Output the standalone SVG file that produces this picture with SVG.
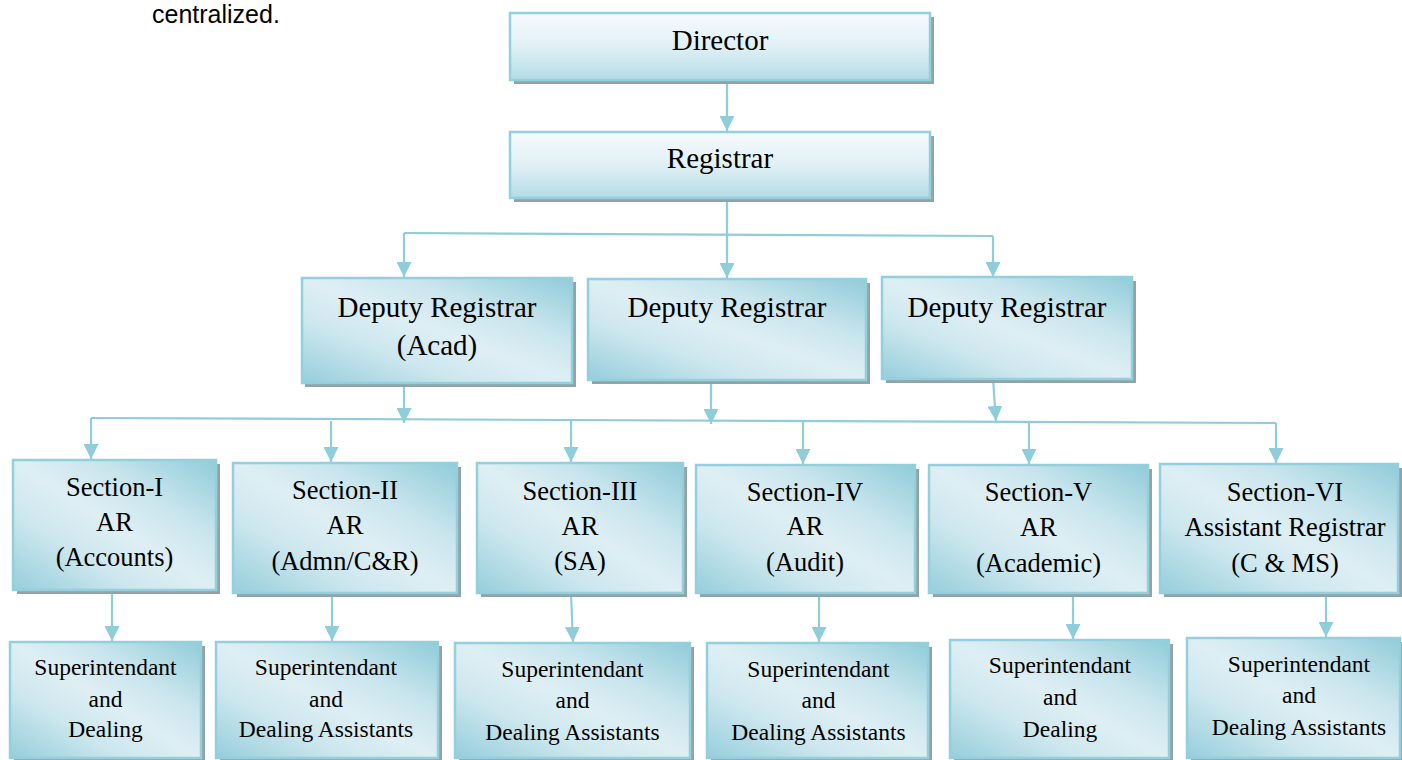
<svg xmlns="http://www.w3.org/2000/svg" width="1402" height="760" viewBox="0 0 1402 760">
<defs>
  <linearGradient id="gTop" x1="0" y1="0" x2="0" y2="1">
    <stop offset="0" stop-color="#f7fbfd"/>
    <stop offset="0.5" stop-color="#e0f0f5"/>
    <stop offset="1" stop-color="#b3dce6"/>
  </linearGradient>
  <linearGradient id="gDiag" x1="0" y1="1" x2="1" y2="0">
    <stop offset="0" stop-color="#95cedb"/>
    <stop offset="0.3" stop-color="#cde7ee"/>
    <stop offset="0.5" stop-color="#deeff4"/>
    <stop offset="0.7" stop-color="#c9e5ed"/>
    <stop offset="1" stop-color="#90ccd9"/>
  </linearGradient>
  <marker id="arr" viewBox="0 0 10 10" refX="10" refY="5" markerWidth="15" markerHeight="15" markerUnits="userSpaceOnUse" orient="auto">
    <path d="M0,0 L10,5 L0,10 z" fill="#8ecdd9"/>
  </marker>
</defs>
<style>
  .box { stroke:#93cfdc; stroke-width:2.5; }
  .top { fill:url(#gTop); }
  .dg { fill:url(#gDiag); }
  .sh { fill:#8fa3a9; }
  .t { font-family:"Liberation Serif","Times New Roman",serif; fill:#000; text-anchor:middle; }
  .t1 { font-size:29px; }
  .t2 { font-size:26.5px; }
  .t3 { font-size:23.5px; }
  .ln { stroke:#8ecdd9; stroke-width:2.2; fill:none; }
  .ar { stroke:#8ecdd9; stroke-width:2.2; fill:none; marker-end:url(#arr); }
</style>
<rect width="1402" height="760" fill="#ffffff"/>

<text x="152" y="23" font-family="Liberation Sans, Arial, sans-serif" font-size="25" fill="#000">centralized.</text>

<g id="connectors">
  <path class="ar" d="M727,80 L727,131"/>
  <path class="ar" d="M727,198 L727,278"/>
  <path class="ln" d="M404,233 L993,236"/>
  <path class="ar" d="M404,233 L404,277"/>
  <path class="ar" d="M993,236 L993,277"/>
  <path class="ar" d="M404,383 L404,423"/>
  <path class="ar" d="M711,380 L711,424"/>
  <path class="ar" d="M993,379 L996,421"/>
  <path class="ln" d="M91,418 L1276,423"/>
  <path class="ar" d="M91,418 L91,459"/>
  <path class="ar" d="M331,421 L331,462"/>
  <path class="ar" d="M571,421 L571,462"/>
  <path class="ar" d="M803,422 L803,464"/>
  <path class="ar" d="M1029,422 L1029,464"/>
  <path class="ar" d="M1276,423 L1276,463"/>
  <path class="ar" d="M112,590 L112,641"/>
  <path class="ar" d="M332,593 L332,641"/>
  <path class="ar" d="M571,593 L573,642"/>
  <path class="ar" d="M819,593 L819,642"/>
  <path class="ar" d="M1073,593 L1073,639"/>
  <path class="ar" d="M1326,593 L1326,637"/>
</g>

<g id="director">
  <rect class="sh" x="514" y="17" width="420" height="67"/>
  <rect class="box top" x="510" y="13" width="420" height="67"/>
  <text class="t t1" x="720" y="50">Director</text>
</g>
<g id="registrar">
  <rect class="sh" x="514" y="136" width="420" height="66"/>
  <rect class="box top" x="510" y="132" width="420" height="66"/>
  <text class="t t1" x="720" y="168">Registrar</text>
</g>

<g id="deputy1">
  <rect class="sh" x="305" y="282" width="271" height="105"/>
  <rect class="box dg" x="302" y="278" width="270" height="105"/>
  <text class="t t1" x="437" y="317">Deputy Registrar</text>
  <text class="t t1" x="437" y="355">(Acad)</text>
</g>
<g id="deputy2">
  <rect class="sh" x="592" y="283" width="278" height="101"/>
  <rect class="box dg" x="588" y="279" width="278" height="101"/>
  <text class="t t1" x="727" y="317">Deputy Registrar</text>
</g>
<g id="deputy3">
  <rect class="sh" x="886" y="281" width="250" height="102"/>
  <rect class="box dg" x="882" y="277" width="250" height="102"/>
  <text class="t t1" x="1007" y="317">Deputy Registrar</text>
</g>

<g id="section1">
  <rect class="sh" x="17" y="464" width="203" height="130"/>
  <rect class="box dg" x="13" y="460" width="203" height="130"/>
  <text class="t t2" x="114.5" y="496">Section-I</text>
  <text class="t t2" x="114.5" y="531">AR</text>
  <text class="t t2" x="114.5" y="566">(Accounts)</text>
</g>
<g id="section2">
  <rect class="sh" x="237" y="467" width="224" height="130"/>
  <rect class="box dg" x="233" y="463" width="224" height="130"/>
  <text class="t t2" x="345" y="499">Section-II</text>
  <text class="t t2" x="345" y="534">AR</text>
  <text class="t t2" x="345" y="570">(Admn/C&amp;R)</text>
</g>
<g id="section3">
  <rect class="sh" x="481" y="467" width="206" height="130"/>
  <rect class="box dg" x="477" y="463" width="206" height="130"/>
  <text class="t t2" x="580" y="500">Section-III</text>
  <text class="t t2" x="580" y="535">AR</text>
  <text class="t t2" x="580" y="570">(SA)</text>
</g>
<g id="section4">
  <rect class="sh" x="700" y="469" width="219" height="128"/>
  <rect class="box dg" x="696" y="465" width="219" height="128"/>
  <text class="t t2" x="805" y="501">Section-IV</text>
  <text class="t t2" x="805" y="535">AR</text>
  <text class="t t2" x="805" y="571">(Audit)</text>
</g>
<g id="section5">
  <rect class="sh" x="933" y="469" width="219" height="128"/>
  <rect class="box dg" x="929" y="465" width="219" height="128"/>
  <text class="t t2" x="1038.5" y="501">Section-V</text>
  <text class="t t2" x="1038.5" y="536">AR</text>
  <text class="t t2" x="1038.5" y="572">(Academic)</text>
</g>
<g id="section6">
  <rect class="sh" x="1164" y="468" width="240" height="129"/>
  <rect class="box dg" x="1160" y="464" width="238" height="129"/>
  <text class="t t2" x="1285" y="501">Section-VI</text>
  <text class="t t2" x="1285" y="536">Assistant Registrar</text>
  <text class="t t2" x="1285" y="572">(C &amp; MS)</text>
</g>

<g id="super1">
  <rect class="sh" x="14" y="646" width="191" height="116"/>
  <rect class="box dg" x="10" y="642" width="191" height="116"/>
  <text class="t t3" x="105.5" y="675">Superintendant</text>
  <text class="t t3" x="105.5" y="707">and</text>
  <text class="t t3" x="105.5" y="737">Dealing</text>
</g>
<g id="super2">
  <rect class="sh" x="220" y="646" width="222" height="116"/>
  <rect class="box dg" x="216" y="642" width="222" height="116"/>
  <text class="t t3" x="326" y="675">Superintendant</text>
  <text class="t t3" x="326" y="707">and</text>
  <text class="t t3" x="326" y="737">Dealing Assistants</text>
</g>
<g id="super3">
  <rect class="sh" x="459" y="647" width="235" height="115"/>
  <rect class="box dg" x="455" y="643" width="235" height="115"/>
  <text class="t t3" x="572.5" y="677">Superintendant</text>
  <text class="t t3" x="572.5" y="708">and</text>
  <text class="t t3" x="572.5" y="740">Dealing Assistants</text>
</g>
<g id="super4">
  <rect class="sh" x="711" y="647" width="221" height="115"/>
  <rect class="box dg" x="707" y="643" width="221" height="115"/>
  <text class="t t3" x="818.5" y="677">Superintendant</text>
  <text class="t t3" x="818.5" y="708">and</text>
  <text class="t t3" x="818.5" y="740">Dealing Assistants</text>
</g>
<g id="super5">
  <rect class="sh" x="954" y="644" width="219" height="118"/>
  <rect class="box dg" x="950" y="640" width="219" height="118"/>
  <text class="t t3" x="1060" y="673">Superintendant</text>
  <text class="t t3" x="1060" y="705">and</text>
  <text class="t t3" x="1060" y="737">Dealing</text>
</g>
<g id="super6">
  <rect class="sh" x="1191" y="642" width="213" height="120"/>
  <rect class="box dg" x="1187" y="638" width="213" height="120"/>
  <text class="t t3" x="1299" y="672">Superintendant</text>
  <text class="t t3" x="1299" y="703">and</text>
  <text class="t t3" x="1299" y="735">Dealing Assistants</text>
</g>
</svg>
